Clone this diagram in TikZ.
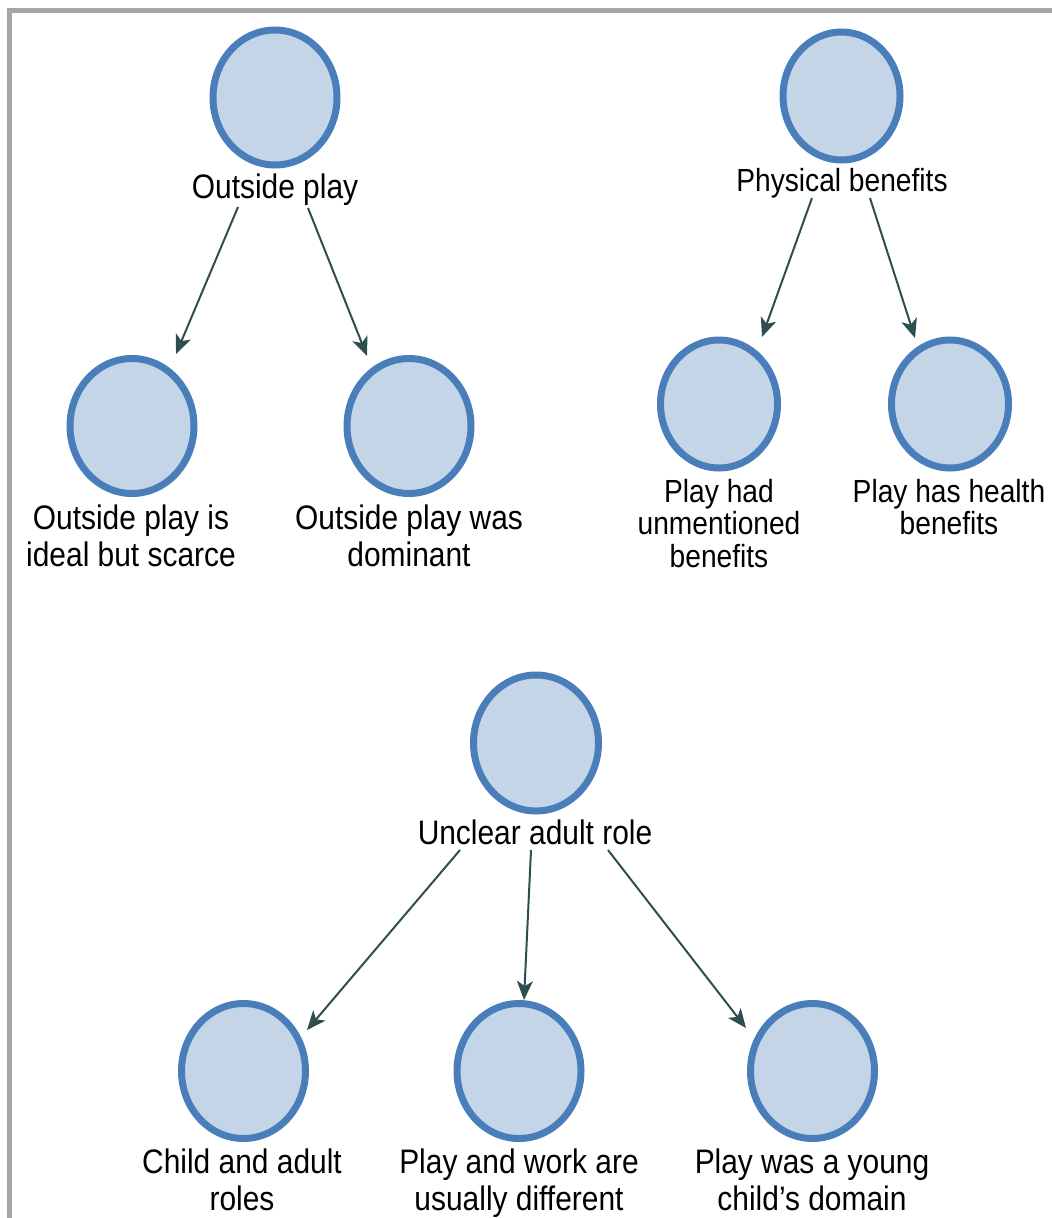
\documentclass[tikz,border=0pt]{standalone}
\usepackage{fontspec}
\setmainfont{Liberation Sans}[FakeStretch=0.88]
\usetikzlibrary{shapes.geometric,arrows.meta,calc}
\definecolor{ringblue}{HTML}{4A7EBB}
\definecolor{discfill}{HTML}{C4D5E8}
\definecolor{linkcol}{HTML}{2F4F4F}
\definecolor{framegray}{HTML}{A6A6A6}

\begin{document}
\begin{tikzpicture}[x=1pt,y=-1pt,
  theme/.style={ellipse, draw=ringblue, fill=discfill, line width=7pt,
    minimum width=124pt, minimum height=135pt, inner sep=0pt},
  themesm/.style={theme, minimum width=117pt, minimum height=128pt},
  caption/.style={anchor=north, align=center, inner sep=0pt,
    font=\fontsize{34}{36.5}\selectfont},
  captionsm/.style={caption, font=\fontsize{32}{32.5}\selectfont},
  link/.style={draw=linkcol, line width=2pt,
    -{Stealth[length=19pt,width=16pt,inset=5pt]}}
]
\useasboundingbox (0,0) rectangle (1052,1218);

% frame (open to the right and bottom)
\draw[framegray, line width=5pt] (9.5,1218) -- (9.5,10.5) -- (1052,10.5);

% --- Outside play ---
\node[theme] (op)  at (275,97.5) {};
\node[caption] (opl) at (275,174) {Outside play};
\node[theme] (opA) at (132,426) {};
\node[caption] (opAl) at (131,505) {Outside play is\\ideal but scarce};
\node[theme] (opB) at (409,426) {};
\node[caption] (opBl) at (409,505) {Outside play was\\dominant};

% --- Physical benefits ---
\node[themesm] (pb)  at (841.5,96) {};
\node[captionsm] (pbl) at (842,168) {Physical benefits};
\node[themesm] (pbA) at (719,404) {};
\node[captionsm] (pbAl) at (719,479) {Play had\\unmentioned\\benefits};
\node[themesm] (pbB) at (950,404) {};
\node[captionsm] (pbBl) at (949,479) {Play has health\\benefits};

% --- Unclear adult role ---
\node[theme, minimum width=125pt, minimum height=136pt] (ua) at (536,743) {};
\node[caption] (ual) at (535,820) {Unclear adult role};
\node[theme] (uaA) at (243.5,1071) {};
\node[caption] (uaAl) at (242,1149) {Child and adult\\roles};
\node[theme] (uaB) at (519,1071) {};
\node[caption] (uaBl) at (519,1149) {Play and work are\\usually different};
\node[theme] (uaC) at (812.5,1071) {};
\node[caption] (uaCl) at (812,1149) {Play was a young\\child's domain};

% connectors
\draw[link] ($(op)+(-37,109.5)$) -- ($(opA)+(44,-72)$);
\draw[link] ($(op)+(33,110.5)$) -- ($(opB)+(-42,-70)$);

\draw[link] ($(pb)+(-29.5,102)$) -- ($(pbA)+(43,-67)$);
\draw[link] ($(pb)+(28.5,102)$) -- ($(pbB)+(-35,-66)$);

\draw[link] ($(ua)+(-76,107)$) -- ($(uaA)+(63.5,-41)$);
\draw[link] ($(ua)+(-5,107)$) -- ($(uaB)+(5,-71)$);
\draw[link] ($(ua)+(72,107)$) -- ($(uaC)+(-66.5,-43)$);
\end{tikzpicture}
\end{document}
